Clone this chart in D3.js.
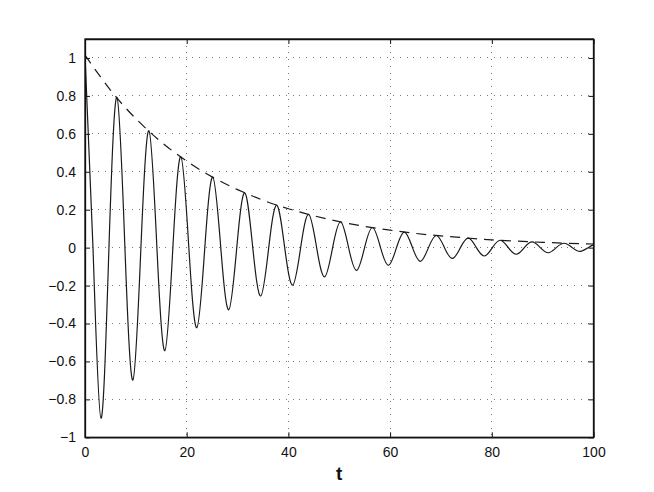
<!DOCTYPE html>
<html>
<head>
<meta charset="utf-8">
<script src="https://cdn.jsdelivr.net/npm/d3@7"></script>
<style>
  body { margin: 0; background: #fff; }
  text { font-family: "Liberation Sans", Arial, sans-serif; }
</style>
</head>
<body>
<svg id="chart" width="654" height="492"></svg>
<script>
// extrema of the oscillation, read at t = 0, pi, 2pi, ... (zero crossings sit halfway)
var extremaT = [0, 3.14, 6.28, 9.42, 12.57, 15.71, 18.85, 21.99, 25.13, 28.27, 31.42, 34.56,
  37.70, 40.84, 43.98, 47.12, 50.27, 53.41, 56.55, 59.69, 62.83, 65.97, 69.12, 72.26,
  75.40, 78.54, 81.68, 84.82, 87.96, 91.11, 94.25, 97.39];
var extremaY = [1.015, -0.9, 0.792, -0.698, 0.616, -0.543, 0.479, -0.422, 0.372, -0.328, 0.289, -0.255,
  0.224, -0.198, 0.175, -0.154, 0.136, -0.12, 0.106, -0.093, 0.082, -0.072, 0.064, -0.057,
  0.05, -0.044, 0.039, -0.035, 0.030, -0.027, 0.023, -0.020];
var endPoint = [100, 0.016];

// dashed envelope
var envT = [0, 5, 10, 15, 20, 25, 30, 35, 40, 45, 50, 55, 60, 65, 70, 75, 80, 85, 90, 95, 100];
var envY = [1.015, 0.831, 0.680, 0.557, 0.456, 0.373, 0.306, 0.250, 0.205, 0.168, 0.137, 0.112,
  0.092, 0.075, 0.062, 0.051, 0.041, 0.034, 0.028, 0.023, 0.019];

var xTicks = [0, 20, 40, 60, 80, 100];
var yTicks = [-1, -0.8, -0.6, -0.4, -0.2, 0, 0.2, 0.4, 0.6, 0.8, 1];

function draw() {
  var svg = d3.select("#chart");
  var pl = 85, pr = 593.5, pt = 39, pb = 437.3;

  var x = d3.scaleLinear().domain([0, 100]).range([pl, pr]);
  var y = d3.scaleLinear().domain([-1, 1.1]).range([pb, pt]);

  // build the series from the listed extrema, with zeros halfway between
  var series = [];
  extremaT.forEach(function (t, i) {
    series.push([t, extremaY[i]]);
    var next = i + 1 < extremaT.length ? extremaT[i + 1] : 100.53;
    var mid = (t + next) / 2;
    if (mid < 100) series.push([mid, 0]);
  });
  series.push(endPoint);

  var env = envT.map(function (t, i) { return [t, envY[i]]; });

  // grid
  var grid = svg.append("g");
  grid.selectAll("line.gx").data(xTicks.slice(1, -1)).enter().append("line").attr("class", "gx")
    .attr("x1", function (d) { return x(d); }).attr("x2", function (d) { return x(d); })
    .attr("y1", pt).attr("y2", pb);
  grid.selectAll("line.gy").data(yTicks.slice(1)).enter().append("line").attr("class", "gy")
    .attr("y1", function (d) { return y(d); }).attr("y2", function (d) { return y(d); })
    .attr("x1", pl).attr("x2", pr);
  grid.selectAll("line").attr("stroke", "#777").attr("stroke-width", 1)
    .attr("stroke-dasharray", "1,5.7").attr("shape-rendering", "crispEdges");

  svg.append("clipPath").attr("id", "clip").append("rect")
    .attr("x", pl).attr("y", pt).attr("width", pr - pl).attr("height", pb - pt);

  var line = d3.line().x(function (d) { return x(d[0]); }).y(function (d) { return y(d[1]); })
    .curve(d3.curveNatural);

  svg.append("path").datum(series).attr("d", line).attr("clip-path", "url(#clip)")
    .attr("fill", "none").attr("stroke", "#1a1a1a").attr("stroke-width", 1.2);
  svg.append("path").datum(env).attr("d", line).attr("clip-path", "url(#clip)")
    .attr("fill", "none").attr("stroke", "#1a1a1a").attr("stroke-width", 1.2)
    .attr("stroke-dasharray", "10,7");

  // axes: ticks inside on all four sides
  var xAxisB = d3.axisBottom(x).tickValues(xTicks).tickSizeInner(-5).tickSizeOuter(0).tickPadding(10);
  var xAxisT = d3.axisTop(x).tickValues(xTicks).tickSizeInner(-5).tickSizeOuter(0).tickFormat("");
  var yAxisL = d3.axisLeft(y).tickValues(yTicks).tickSizeInner(-5).tickSizeOuter(0).tickPadding(9)
    .tickFormat(function (d) { return d3.format("")(d).replace("-", "\u2212"); });
  var yAxisR = d3.axisRight(y).tickValues(yTicks).tickSizeInner(-5).tickSizeOuter(0).tickFormat("");

  svg.append("g").attr("transform", "translate(0," + pb + ")").call(xAxisB);
  svg.append("g").attr("transform", "translate(0," + pt + ")").call(xAxisT);
  svg.append("g").attr("transform", "translate(" + pl + ",0)").call(yAxisL);
  svg.append("g").attr("transform", "translate(" + pr + ",0)").call(yAxisR);

  svg.selectAll(".domain").attr("stroke", "#111").attr("stroke-width", 1.3);
  svg.selectAll(".tick line").attr("stroke", "#111");
  svg.selectAll(".tick text").attr("font-size", 14).attr("fill", "#111")
    .attr("font-family", "Liberation Sans, Arial, sans-serif");

  svg.append("rect").attr("x", pl).attr("y", pt).attr("width", pr - pl).attr("height", pb - pt)
    .attr("fill", "none").attr("stroke", "#111").attr("stroke-width", 1.3);

  svg.append("text").attr("x", (pl + pr) / 2).attr("y", 480).attr("text-anchor", "middle")
    .attr("font-size", 19).attr("font-weight", "bold").attr("fill", "#111").text("t");
}
draw();
</script>
</body>
</html>
